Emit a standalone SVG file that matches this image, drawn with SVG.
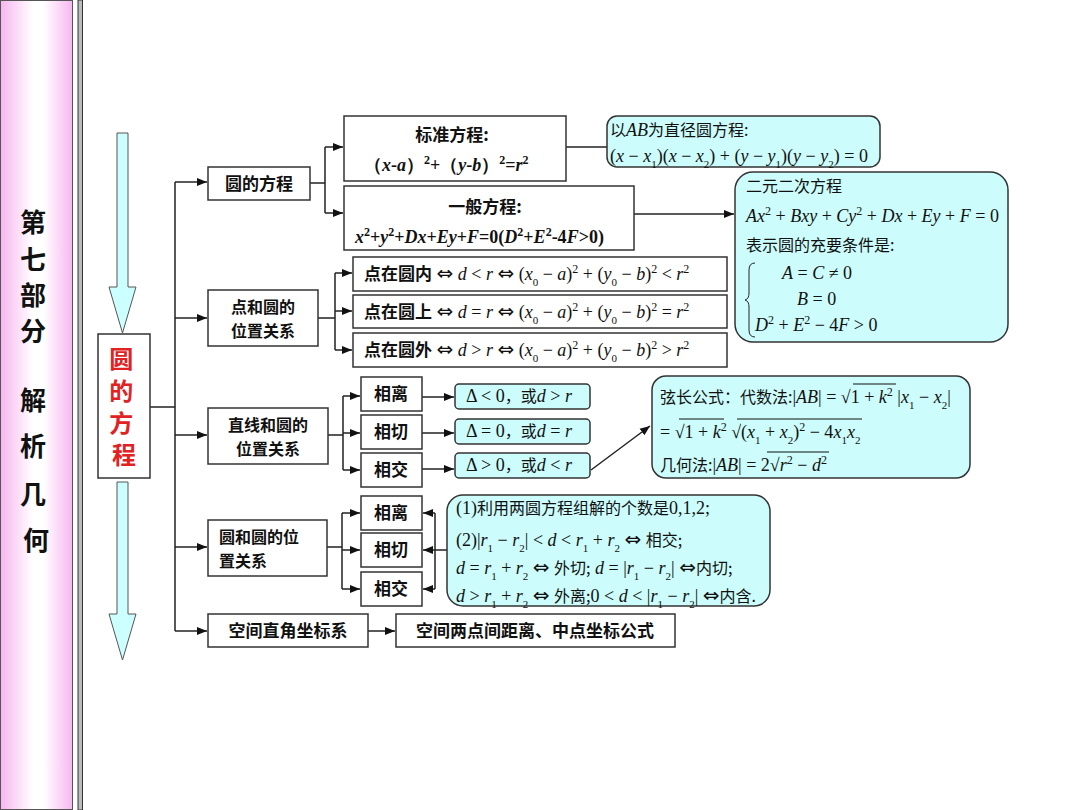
<svg xmlns="http://www.w3.org/2000/svg" width="1080" height="810" viewBox="0 0 1080 810">
<defs>
<linearGradient id="pink" x1="0" y1="0" x2="1" y2="0">
<stop offset="0" stop-color="#f7b6f0"/>
<stop offset="0.45" stop-color="#ffffff"/>
<stop offset="0.6" stop-color="#ffffff"/>
<stop offset="1" stop-color="#f7b6f0"/>
</linearGradient>
<marker id="ah" viewBox="0 0 10 10" refX="10" refY="5" markerWidth="10" markerHeight="10" markerUnits="userSpaceOnUse" orient="auto">
<path d="M0,1 L10,5 L0,9 z" fill="#111"/>
</marker>
<style>
.box{fill:#fff;stroke:#333;stroke-width:1.5}
.cy{fill:#ccfcfc;stroke:#333;stroke-width:1.5}
.ln{fill:none;stroke:#222;stroke-width:1.5}
.ol{stroke:#111;stroke-width:1}
.cn{font-family:"Noto Sans CJK SC",sans-serif;font-weight:bold;font-size:17px;fill:#111}
.cn2{font-family:"Noto Sans CJK SC",sans-serif;font-weight:bold;font-size:16px;fill:#111}
.cs{font-family:"Noto Sans CJK SC",sans-serif;font-weight:normal;font-size:16px;fill:#111}
.m{font-family:"Liberation Serif","DejaVu Serif",serif;font-weight:normal;font-size:18px}
.mb{font-family:"Liberation Serif","DejaVu Serif",serif;font-weight:bold;font-size:18px;fill:#111}
.i{font-style:italic}
.sp{font-size:12px;baseline-shift:super}
.sb{font-size:11px;baseline-shift:sub}
.ar{font-family:"DejaVu Sans",sans-serif;font-style:normal;font-weight:normal;font-size:20px}
.side{font-family:"Noto Sans CJK SC",sans-serif;font-weight:bold;font-size:26px;fill:#111}
.red{font-family:"Noto Sans CJK SC",sans-serif;font-weight:bold;font-size:24px;fill:#e02222}
.arr{fill:#ccffff;stroke:#555;stroke-width:1}
</style>
</defs>
<rect width="1080" height="810" fill="#fff"/>
<g id="sidebar">
<rect x="0.5" y="0.5" width="72" height="809" fill="url(#pink)" stroke="#555" stroke-width="1"/>
<rect x="78" y="0" width="4.5" height="810" fill="#bbb" stroke="#333" stroke-width="1"/>
<text class="side" text-anchor="middle">
<tspan x="36" y="232">第</tspan>
<tspan x="36" y="269">七</tspan>
<tspan x="36" y="305">部</tspan>
<tspan x="36" y="341">分</tspan>
<tspan x="36" y="410">解</tspan>
<tspan x="36" y="456">析</tspan>
<tspan x="36" y="504">几</tspan>
<tspan x="36" y="550">何</tspan>
</text>
</g>
<g id="flow-arrows">
<polygon class="arr" points="117,133 128,133 128,287 136,287 122.5,333 109,287 117,287"/>
<polygon class="arr" points="117,482 128,482 128,614 136,614 122.5,660 109,614 117,614"/>
</g>
<g id="connectors">
<path class="ln" d="M150,407 H175 M175,182 V631"/>
<line class="ln" x1="175" y1="182" x2="207" y2="182" marker-end="url(#ah)"/>
<line class="ln" x1="175" y1="318" x2="207" y2="318" marker-end="url(#ah)"/>
<line class="ln" x1="175" y1="435" x2="207" y2="435" marker-end="url(#ah)"/>
<line class="ln" x1="175" y1="547" x2="207" y2="547" marker-end="url(#ah)"/>
<line class="ln" x1="175" y1="631" x2="207" y2="631" marker-end="url(#ah)"/>
<path class="ln" d="M310,183 H325 M325,147 V213" stroke="#777"/>
<line class="ln" x1="325" y1="147" x2="343" y2="147" marker-end="url(#ah)"/>
<line class="ln" x1="325" y1="213" x2="343" y2="213" marker-end="url(#ah)"/>
<line class="ln" x1="566" y1="147" x2="607" y2="147"/>
<line class="ln" x1="634" y1="214" x2="734" y2="214" marker-end="url(#ah)"/>
<path class="ln" d="M318,318 H335 M335,273 V350"/>
<line class="ln" x1="335" y1="273" x2="352" y2="273" marker-end="url(#ah)"/>
<line class="ln" x1="335" y1="311" x2="352" y2="311" marker-end="url(#ah)"/>
<line class="ln" x1="335" y1="350" x2="352" y2="350" marker-end="url(#ah)"/>
<path class="ln" d="M328,435 H343 M343,396 V470"/>
<line class="ln" x1="343" y1="396" x2="360" y2="396" marker-end="url(#ah)"/>
<line class="ln" x1="343" y1="433" x2="360" y2="433" marker-end="url(#ah)"/>
<line class="ln" x1="343" y1="470" x2="360" y2="470" marker-end="url(#ah)"/>
<line class="ln" x1="422" y1="397" x2="454" y2="397" marker-end="url(#ah)"/>
<line class="ln" x1="422" y1="433" x2="454" y2="433" marker-end="url(#ah)"/>
<line class="ln" x1="422" y1="469" x2="454" y2="469" marker-end="url(#ah)"/>
<line class="ln" x1="591" y1="470" x2="650" y2="426" marker-end="url(#ah)"/>
<path class="ln" d="M327,547 H342 M342,513 V589"/>
<line class="ln" x1="342" y1="513" x2="360" y2="513" marker-end="url(#ah)"/>
<line class="ln" x1="342" y1="550" x2="360" y2="550" marker-end="url(#ah)"/>
<line class="ln" x1="342" y1="589" x2="360" y2="589" marker-end="url(#ah)"/>
<path class="ln" d="M447,550 H435 M435,513 V589"/>
<line class="ln" x1="435" y1="513" x2="423" y2="513" marker-end="url(#ah)"/>
<line class="ln" x1="435" y1="550" x2="423" y2="550" marker-end="url(#ah)"/>
<line class="ln" x1="435" y1="589" x2="423" y2="589" marker-end="url(#ah)"/>
<line class="ln" x1="368" y1="631" x2="395" y2="631" marker-end="url(#ah)"/>
</g>
<g id="root">
<rect class="box" x="98" y="334" width="52" height="144"/>
<text class="red" text-anchor="middle">
<tspan x="124" y="368">圆</tspan>
<tspan x="124" y="400">的</tspan>
<tspan x="124" y="432">方</tspan>
<tspan x="124" y="464">程</tspan>
</text>
</g>
<g id="n-equation">
<rect class="box" x="208" y="167" width="102" height="33"/>
<text class="cn" x="259" y="190" text-anchor="middle">圆的方程</text>
</g>
<g id="n-standard">
<rect class="box" x="344" y="116" width="222" height="65"/>
<text class="cn" x="452" y="141" text-anchor="middle">标准方程:</text>
<text class="mb" x="364" y="171">（<tspan class="i">x</tspan>-<tspan class="i">a</tspan>）<tspan class="sp">2</tspan>+（<tspan class="i">y</tspan>-<tspan class="i">b</tspan>）<tspan class="sp">2</tspan>=<tspan class="i">r</tspan><tspan class="sp">2</tspan></text>
</g>
<g id="n-general">
<rect class="box" x="344" y="186" width="290" height="64"/>
<text class="cn" x="485" y="213" text-anchor="middle">一般方程:</text>
<text class="mb" x="355" y="243"><tspan class="i">x</tspan><tspan class="sp">2</tspan>+<tspan class="i">y</tspan><tspan class="sp">2</tspan>+<tspan class="i">Dx</tspan>+<tspan class="i">Ey</tspan>+<tspan class="i">F</tspan>=0(<tspan class="i">D</tspan><tspan class="sp">2</tspan>+<tspan class="i">E</tspan><tspan class="sp">2</tspan>-4<tspan class="i">F</tspan>&gt;0)</text>
</g>
<g id="n-diameter">
<rect class="cy" x="607" y="116" width="273" height="51" rx="10"/>
<text class="cs" x="610" y="136">以<tspan class="m i" font-size="16">AB</tspan>为直径圆方程:</text>
<text class="m" x="610" y="162" fill="#111">(<tspan class="i">x</tspan> − <tspan class="i">x</tspan><tspan class="sb">1</tspan>)(<tspan class="i">x</tspan> − <tspan class="i">x</tspan><tspan class="sb">2</tspan>) + (<tspan class="i">y</tspan> − <tspan class="i">y</tspan><tspan class="sb">1</tspan>)(<tspan class="i">y</tspan> − <tspan class="i">y</tspan><tspan class="sb">2</tspan>) = 0</text>
</g>
<g id="n-quadratic">
<rect class="cy" x="735" y="172" width="273" height="170" rx="18"/>
<text class="cs" x="746" y="192">二元二次方程</text>
<text class="m" x="746" y="222" fill="#111"><tspan class="i">Ax</tspan><tspan class="sp">2</tspan> + <tspan class="i">Bxy</tspan> + <tspan class="i">Cy</tspan><tspan class="sp">2</tspan> + <tspan class="i">Dx</tspan> + <tspan class="i">Ey</tspan> + <tspan class="i">F</tspan> = 0</text>
<text class="cs" x="746" y="251">表示圆的充要条件是:</text>
<path d="M755,263 Q749,263 749,270 L749,293 Q749,299 745,300 Q749,301 749,307 L749,330 Q749,337 755,337" fill="none" stroke="#222" stroke-width="1"/>
<text class="m" x="782" y="279" fill="#111"><tspan class="i">A</tspan> = <tspan class="i">C</tspan> ≠ 0</text>
<text class="m" x="797" y="305" fill="#111"><tspan class="i">B</tspan> = 0</text>
<text class="m" x="755" y="331" fill="#111"><tspan class="i">D</tspan><tspan class="sp">2</tspan> + <tspan class="i">E</tspan><tspan class="sp">2</tspan> − 4<tspan class="i">F</tspan> &gt; 0</text>
</g>
<g id="n-point">
<rect class="box" x="208" y="290" width="110" height="56"/>
<text class="cn2" text-anchor="middle"><tspan x="263" y="313">点和圆的</tspan><tspan x="263" y="337">位置关系</tspan></text>
</g>
<g id="n-inside">
<rect class="box" x="353" y="257" width="374" height="34"/>
<text class="cn" x="364" y="280">点在圆内<tspan class="m"> <tspan class="ar">⇔</tspan> <tspan class="i">d</tspan> &lt; <tspan class="i">r</tspan> <tspan class="ar">⇔</tspan> (<tspan class="i">x</tspan><tspan class="sb">0</tspan> − <tspan class="i">a</tspan>)<tspan class="sp">2</tspan> + (<tspan class="i">y</tspan><tspan class="sb">0</tspan> − <tspan class="i">b</tspan>)<tspan class="sp">2</tspan> &lt; <tspan class="i">r</tspan><tspan class="sp">2</tspan></tspan></text>
</g>
<g id="n-on">
<rect class="box" x="353" y="295" width="374" height="33"/>
<text class="cn" x="364" y="318">点在圆上<tspan class="m"> <tspan class="ar">⇔</tspan> <tspan class="i">d</tspan> = <tspan class="i">r</tspan> <tspan class="ar">⇔</tspan> (<tspan class="i">x</tspan><tspan class="sb">0</tspan> − <tspan class="i">a</tspan>)<tspan class="sp">2</tspan> + (<tspan class="i">y</tspan><tspan class="sb">0</tspan> − <tspan class="i">b</tspan>)<tspan class="sp">2</tspan> = <tspan class="i">r</tspan><tspan class="sp">2</tspan></tspan></text>
</g>
<g id="n-outside">
<rect class="box" x="353" y="333" width="374" height="34"/>
<text class="cn" x="364" y="356">点在圆外<tspan class="m"> <tspan class="ar">⇔</tspan> <tspan class="i">d</tspan> &gt; <tspan class="i">r</tspan> <tspan class="ar">⇔</tspan> (<tspan class="i">x</tspan><tspan class="sb">0</tspan> − <tspan class="i">a</tspan>)<tspan class="sp">2</tspan> + (<tspan class="i">y</tspan><tspan class="sb">0</tspan> − <tspan class="i">b</tspan>)<tspan class="sp">2</tspan> &gt; <tspan class="i">r</tspan><tspan class="sp">2</tspan></tspan></text>
</g>
<g id="n-line">
<rect class="box" x="208" y="408" width="120" height="56"/>
<text class="cn2" text-anchor="middle"><tspan x="268" y="431">直线和圆的</tspan><tspan x="268" y="455">位置关系</tspan></text>
</g>
<g id="n-l-sep">
<rect class="box" x="361" y="377" width="61" height="34"/>
<text class="cn" x="391" y="400" text-anchor="middle">相离</text>
</g>
<g id="n-l-tan">
<rect class="box" x="361" y="415" width="61" height="34"/>
<text class="cn" x="391" y="438" text-anchor="middle">相切</text>
</g>
<g id="n-l-int">
<rect class="box" x="361" y="453" width="61" height="34"/>
<text class="cn" x="391" y="476" text-anchor="middle">相交</text>
</g>
<g id="n-d-sep">
<rect class="cy" x="455" y="384" width="135" height="25" rx="4"/>
<text class="m" x="466" y="402" font-size="17" fill="#111">Δ &lt; 0<tspan class="cs">，或</tspan><tspan class="i">d</tspan> &gt; <tspan class="i">r</tspan></text>
</g>
<g id="n-d-tan">
<rect class="cy" x="455" y="419" width="135" height="25" rx="4"/>
<text class="m" x="466" y="437" font-size="17" fill="#111">Δ = 0<tspan class="cs">，或</tspan><tspan class="i">d</tspan> = <tspan class="i">r</tspan></text>
</g>
<g id="n-d-int">
<rect class="cy" x="455" y="453" width="135" height="25" rx="4"/>
<text class="m" x="466" y="471" font-size="17" fill="#111">Δ &gt; 0<tspan class="cs">，或</tspan><tspan class="i">d</tspan> &lt; <tspan class="i">r</tspan></text>
</g>
<g id="n-chord">
<rect class="cy" x="652" y="376" width="318" height="102" rx="14"/>
<text class="cs" x="660" y="403">弦长公式：代数法:<tspan class="m" fill="#111">|<tspan class="i">AB</tspan>| = √1 + <tspan class="i">k</tspan><tspan class="sp">2</tspan> |<tspan class="i">x</tspan><tspan class="sb">1</tspan> − <tspan class="i">x</tspan><tspan class="sb">2</tspan>|</tspan></text>
<text class="m" x="660" y="438" fill="#111">= √1 + <tspan class="i">k</tspan><tspan class="sp">2</tspan> √(<tspan class="i">x</tspan><tspan class="sb">1</tspan> + <tspan class="i">x</tspan><tspan class="sb">2</tspan>)<tspan class="sp">2</tspan> − 4<tspan class="i">x</tspan><tspan class="sb">1</tspan><tspan class="i">x</tspan><tspan class="sb">2</tspan></text>
<text class="cs" x="660" y="471">几何法:<tspan class="m" fill="#111">|<tspan class="i">AB</tspan>| = 2√<tspan class="i">r</tspan><tspan class="sp">2</tspan> − <tspan class="i">d</tspan><tspan class="sp">2</tspan></tspan></text>
<line class="ol" x1="853" y1="384" x2="896" y2="384"/>
<line class="ol" x1="679" y1="419" x2="724" y2="419"/>
<line class="ol" x1="737" y1="419" x2="862" y2="419"/>
<line class="ol" x1="767" y1="452" x2="829" y2="452"/>
</g>
<g id="n-circle">
<rect class="box" x="208" y="520" width="119" height="56"/>
<text class="cn2"><tspan x="219" y="543">圆和圆的位</tspan><tspan x="219" y="567">置关系</tspan></text>
</g>
<g id="n-c-sep">
<rect class="box" x="361" y="496" width="61" height="34"/>
<text class="cn" x="391" y="519" text-anchor="middle">相离</text>
</g>
<g id="n-c-tan">
<rect class="box" x="361" y="533" width="61" height="34"/>
<text class="cn" x="391" y="556" text-anchor="middle">相切</text>
</g>
<g id="n-c-int">
<rect class="box" x="361" y="572" width="61" height="34"/>
<text class="cn" x="391" y="595" text-anchor="middle">相交</text>
</g>
<g id="n-cc-rules">
<rect class="cy" x="447" y="495" width="323" height="111" rx="16"/>
<text class="m" x="456" y="514" font-size="16" fill="#111">(1)<tspan class="cs">利用两圆方程组解的个数是</tspan>0,1,2;</text>
<text class="m" x="456" y="546" font-size="17" fill="#111">(2)|<tspan class="i">r</tspan><tspan class="sb">1</tspan> − <tspan class="i">r</tspan><tspan class="sb">2</tspan>| &lt; <tspan class="i">d</tspan> &lt; <tspan class="i">r</tspan><tspan class="sb">1</tspan> + <tspan class="i">r</tspan><tspan class="sb">2</tspan> <tspan class="ar">⇔</tspan> <tspan class="cs">相交;</tspan></text>
<text class="m" x="456" y="574" font-size="17" fill="#111"><tspan class="i">d</tspan> = <tspan class="i">r</tspan><tspan class="sb">1</tspan> + <tspan class="i">r</tspan><tspan class="sb">2</tspan> <tspan class="ar">⇔</tspan> <tspan class="cs">外切;</tspan> <tspan class="i">d</tspan> = |<tspan class="i">r</tspan><tspan class="sb">1</tspan> − <tspan class="i">r</tspan><tspan class="sb">2</tspan>| <tspan class="ar">⇔</tspan><tspan class="cs">内切;</tspan></text>
<text class="m" x="456" y="602" font-size="17" fill="#111"><tspan class="i">d</tspan> &gt; <tspan class="i">r</tspan><tspan class="sb">1</tspan> + <tspan class="i">r</tspan><tspan class="sb">2</tspan> <tspan class="ar">⇔</tspan> <tspan class="cs">外离;</tspan>0 &lt; <tspan class="i">d</tspan> &lt; |<tspan class="i">r</tspan><tspan class="sb">1</tspan> − <tspan class="i">r</tspan><tspan class="sb">2</tspan>| <tspan class="ar">⇔</tspan><tspan class="cs">内含.</tspan></text>
</g>
<g id="n-space">
<rect class="box" x="208" y="614" width="160" height="33"/>
<text class="cn" x="288" y="637" text-anchor="middle">空间直角坐标系</text>
</g>
<g id="n-space-formula">
<rect class="box" x="396" y="614" width="279" height="33"/>
<text class="cn" x="535" y="637" text-anchor="middle">空间两点间距离、中点坐标公式</text>
</g>
</svg>
